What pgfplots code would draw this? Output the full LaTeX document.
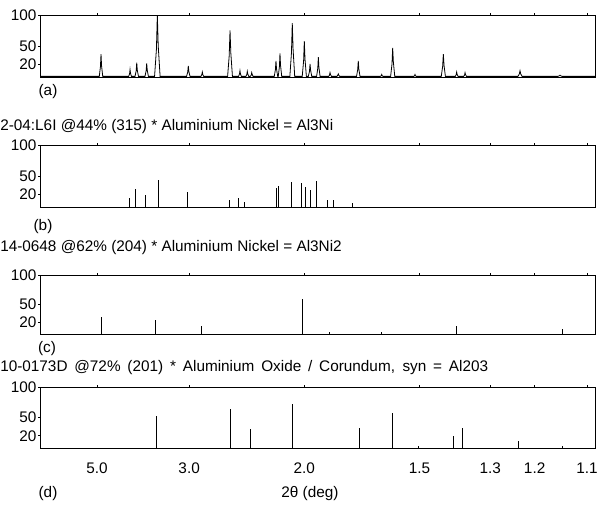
\documentclass[border=0pt]{standalone}
\usepackage{fontspec}
\setmainfont{Liberation Sans}
\usepackage{pgfplots}
\pgfplotsset{compat=1.18}
\pgfplotsset{
  xrdpanel/.style={
    scale only axis, width=416.25pt, anchor=north west,
    xmin=0.1175, xmax=0.9207, ymin=0, ymax=100,
    ytick={20,50,100},
    xtick={0.2,0.33333,0.5,0.66667,0.76923,0.83333,0.90909},
    xticklabels={},
    xtick pos=right, ytick pos=left,
    tick align=outside, major tick length=1.5pt,
    axis line style={line width=0.5pt},
    tick style={black, line width=0.5pt},
    tick label style={font=\fontsize{11.5}{13}\selectfont},
    /pgf/number format/assume math mode=true,
    yticklabel style={inner sep=1pt},
  },
  stick/.style={ycomb, black, line width=0.6pt, mark=none},
}
\begin{document}
\begin{tikzpicture}
\useasboundingbox (0,0) rectangle (448.5pt,-380.25pt);
\fill[white] (0,0) rectangle (448.5pt,-380.25pt);

% (a) measured pattern
\begin{axis}[xrdpanel, at={(30pt,-11.25pt)}, height=46.5pt]
\addplot[black, line width=0.6pt, mark=none] coordinates {
(0.1175,1)
(0.2033,1)(0.2050,17)(0.2058,37)(0.2066,18)(0.2083,1)
(0.2458,1)(0.2471,5)(0.2478,12)(0.2485,6)(0.2498,1)
(0.2550,1)(0.2567,10)(0.2575,23)(0.2583,11)(0.2600,1)
(0.2694,1)(0.2711,10)(0.2719,22)(0.2727,11)(0.2744,1)
(0.2833,1)(0.2860,45)(0.2873,100)(0.2886,50)(0.2913,1)
(0.3296,1)(0.3313,8)(0.3321,18)(0.3329,9)(0.3346,1)
(0.3504,1)(0.3517,4)(0.3524,8)(0.3531,4)(0.3544,1)
(0.3890,1)(0.3913,34)(0.3925,75)(0.3937,38)(0.3960,1)
(0.4049,1)(0.4062,5)(0.4069,10)(0.4076,5)(0.4089,1)
(0.4155,1)(0.4168,4)(0.4175,9)(0.4182,5)(0.4195,1)
(0.4219,1)(0.4232,3)(0.4239,7)(0.4246,4)(0.4259,1)
(0.4565,1)(0.4582,12)(0.4590,26)(0.4598,13)(0.4615,1)
(0.4623,1)(0.4640,17)(0.4648,38)(0.4656,19)(0.4673,1)
(0.4791,1)(0.4814,39)(0.4826,87)(0.4838,44)(0.4861,1)
(0.4970,1)(0.4990,26)(0.5000,58)(0.5010,29)(0.5030,1)
(0.5058,1)(0.5075,9)(0.5083,21)(0.5091,11)(0.5108,1)
(0.5178,1)(0.5195,14)(0.5203,32)(0.5211,16)(0.5228,1)
(0.5352,1)(0.5365,3)(0.5372,7)(0.5379,4)(0.5392,1)
(0.5472,1)(0.5485,3)(0.5492,5)(0.5499,3)(0.5512,1)
(0.5756,1)(0.5773,12)(0.5781,26)(0.5789,13)(0.5806,1)
(0.6100,1)(0.6113,2)(0.6120,4)(0.6127,2)(0.6140,1)
(0.6249,1)(0.6269,21)(0.6279,47)(0.6289,24)(0.6309,1)
(0.6582,1)(0.6595,2)(0.6602,4)(0.6609,2)(0.6622,1)
(0.6982,1)(0.7002,17)(0.7012,37)(0.7022,19)(0.7042,1)
(0.7185,1)(0.7198,4)(0.7205,8)(0.7212,4)(0.7225,1)
(0.7306,1)(0.7319,3)(0.7326,7)(0.7333,4)(0.7346,1)
(0.8092,1)(0.8112,5)(0.8122,10)(0.8132,5)(0.8152,1)
(0.8670,1)(0.8690,2)(0.8700,3)(0.8710,2)(0.8730,1)
(0.9207,1)
};
\end{axis}

% (b) Al3Ni reference lines
\begin{axis}[xrdpanel, at={(30pt,-108.75pt)}, height=46.5pt]
\addplot[stick] coordinates {
(0.2463,15)(0.2550,29)(0.2695,20)(0.2883,44)(0.3302,25)
(0.3910,12)(0.4041,15)(0.4127,8)(0.4590,30)(0.4619,34)
(0.4808,41)(0.4952,38)(0.5010,33)(0.5083,27)(0.5169,42)
(0.5329,11)(0.5415,11)(0.5690,6)
};
\end{axis}

% (c) Al3Ni2 reference lines
\begin{axis}[xrdpanel, at={(30pt,-206.25pt)}, height=44.25pt]
\addplot[stick] coordinates {
(0.2062,28)(0.2838,23)(0.3509,14)(0.4973,59)(0.5370,4)
(0.6120,3)(0.7194,13)(0.8729,9)
};
\end{axis}

% (d) Corundum reference lines
\begin{axis}[xrdpanel, at={(30pt,-290.25pt)}, height=45.75pt,
  xticklabel pos=left,
  xticklabels={5.0,3.0,2.0,1.5,1.3,1.2,1.1},
  xticklabel style={yshift=-6pt}]
\addplot[stick] coordinates {
(0.2864,53)(0.3925,64)(0.4224,31)(0.4832,72)(0.5792,33)
(0.6273,58)(0.6645,4)(0.7156,20)(0.7292,33)(0.8093,11)(0.8729,3)
};
\end{axis}

\begin{scope}[every node/.style={inner sep=0pt, font=\fontsize{11.5}{13}\selectfont}]
\node[anchor=center] at (36pt,-69pt) {(a)};
\node[anchor=west] at (0pt,-95.25pt) {2-04:L6I @44\% (315) * Aluminium Nickel = Al3Ni};
\node[anchor=center] at (32.25pt,-170.25pt) {(b)};
\node[anchor=west] at (0pt,-186pt) {14-0648 @62\% (204) * Aluminium Nickel = Al3Ni2};
\node[anchor=center] at (35.25pt,-261.75pt) {(c)};
\node[anchor=west] at (0pt,-276pt) {\hbox to 366pt{10-0173D @72\% (201) * Aluminium Oxide / Corundum, syn = Al203}};
\node[anchor=center] at (36pt,-370.5pt) {(d)};
\node[anchor=center] at (232.5pt,-370.5pt) {2θ (deg)};
\end{scope}
\end{tikzpicture}
\end{document}
